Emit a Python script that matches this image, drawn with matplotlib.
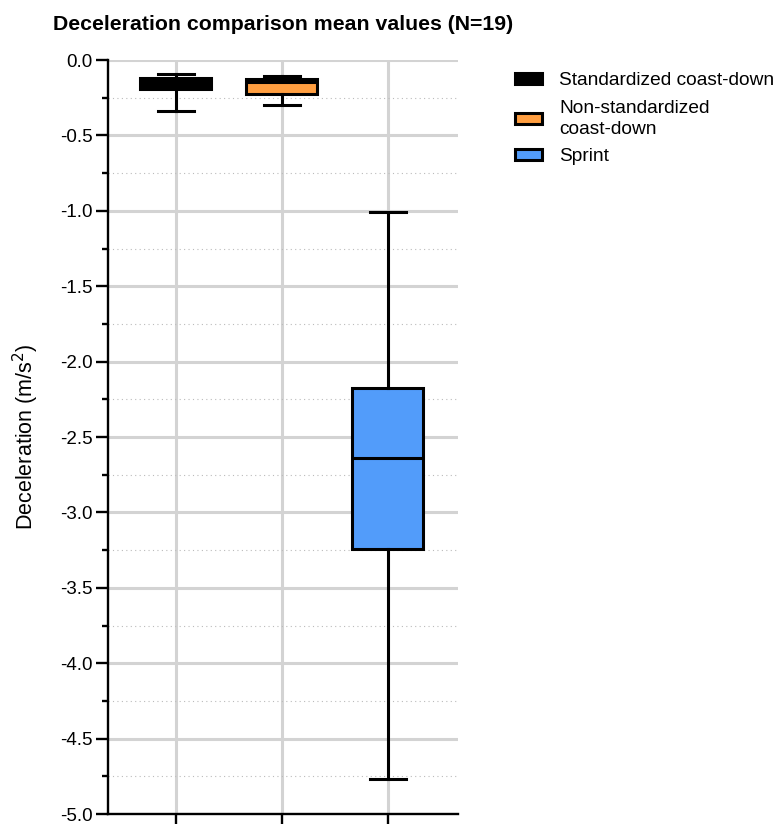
import matplotlib
matplotlib.use('Agg')
import matplotlib.pyplot as plt
from matplotlib.patches import Patch
from matplotlib.ticker import MultipleLocator

plt.rcParams['font.family'] = ['Liberation Sans', 'DejaVu Sans']

groups = ['Standardized coast-down', 'Non-standardized\ncoast-down', 'Sprint']
whisker_low = [-0.34, -0.295, -4.77]
q1 = [-0.19, -0.228, -3.24]
medians = [-0.16, -0.148, -2.64]
q3 = [-0.117, -0.128, -2.175]
whisker_high = [-0.093, -0.104, -1.01]
colors = ['#000000', '#FF9E40', '#529CFA']

stats = []
for i in range(len(groups)):
    stats.append({'whislo': whisker_low[i], 'q1': q1[i], 'med': medians[i],
                  'q3': q3[i], 'whishi': whisker_high[i], 'label': ''})

fig = plt.figure(figsize=(7.79, 8.24), dpi=100)
ax = fig.add_axes([0.1386, 0.0121, 0.449, 0.915])

bp = ax.bxp(stats, positions=range(len(groups)), widths=0.67, patch_artist=True,
            showfliers=False, showcaps=True,
            boxprops=dict(linewidth=2.2, edgecolor='black'),
            medianprops=dict(color='black', linewidth=2.2),
            whiskerprops=dict(color='black', linewidth=2.2),
            capprops=dict(color='black', linewidth=2.2),
            capwidths=0.34, zorder=3)
for patch, c in zip(bp['boxes'], colors):
    patch.set_facecolor(c)

ax.set_xlim(-0.64, 2.66)
ax.set_ylim(-5.0, 0.0)
ax.yaxis.set_major_locator(MultipleLocator(0.5))
ax.yaxis.set_minor_locator(MultipleLocator(0.25))
ax.set_yticklabels([f'{v:.1f}' for v in ax.get_yticks()])
ax.set_xticks(range(len(groups)))
ax.set_xticklabels([])

ax.grid(True, which='major', axis='both', color='#d3d3d3', linewidth=2.2, zorder=0)
ax.grid(True, which='minor', axis='y', color='#bbbbbb', linestyle=(0, (1, 3)), linewidth=0.8, zorder=0)
ax.set_axisbelow(True)

for s in ['top', 'right']:
    ax.spines[s].set_visible(False)
for s in ['left', 'bottom']:
    ax.spines[s].set_linewidth(1.7)
ax.tick_params(axis='both', which='major', length=8.5, width=1.7, labelsize=13.5,
               direction='out', pad=2.5)
ax.tick_params(axis='y', which='minor', length=4.3, width=1.7)
ax.set_ylabel('Deceleration (m/s$^2$)', fontsize=15.5, labelpad=14)

fig.text(0.068, 0.970, 'Deceleration comparison mean values (N=19)', fontsize=15.3,
         fontweight='bold', ha='left', va='center')

handles = [Patch(facecolor=c, edgecolor='black', linewidth=2.2) for c in colors]
leg = ax.legend(handles, groups, loc='upper left', bbox_to_anchor=(1.163, 0.984), frameon=False,
                fontsize=13.8, handlelength=1.43, handleheight=0.55, labelspacing=0.55,
                handletextpad=0.88, borderaxespad=0, borderpad=0)
for t in leg.get_texts():
    t.set_linespacing(1.3)

fig.savefig('out.png', dpi=100)
